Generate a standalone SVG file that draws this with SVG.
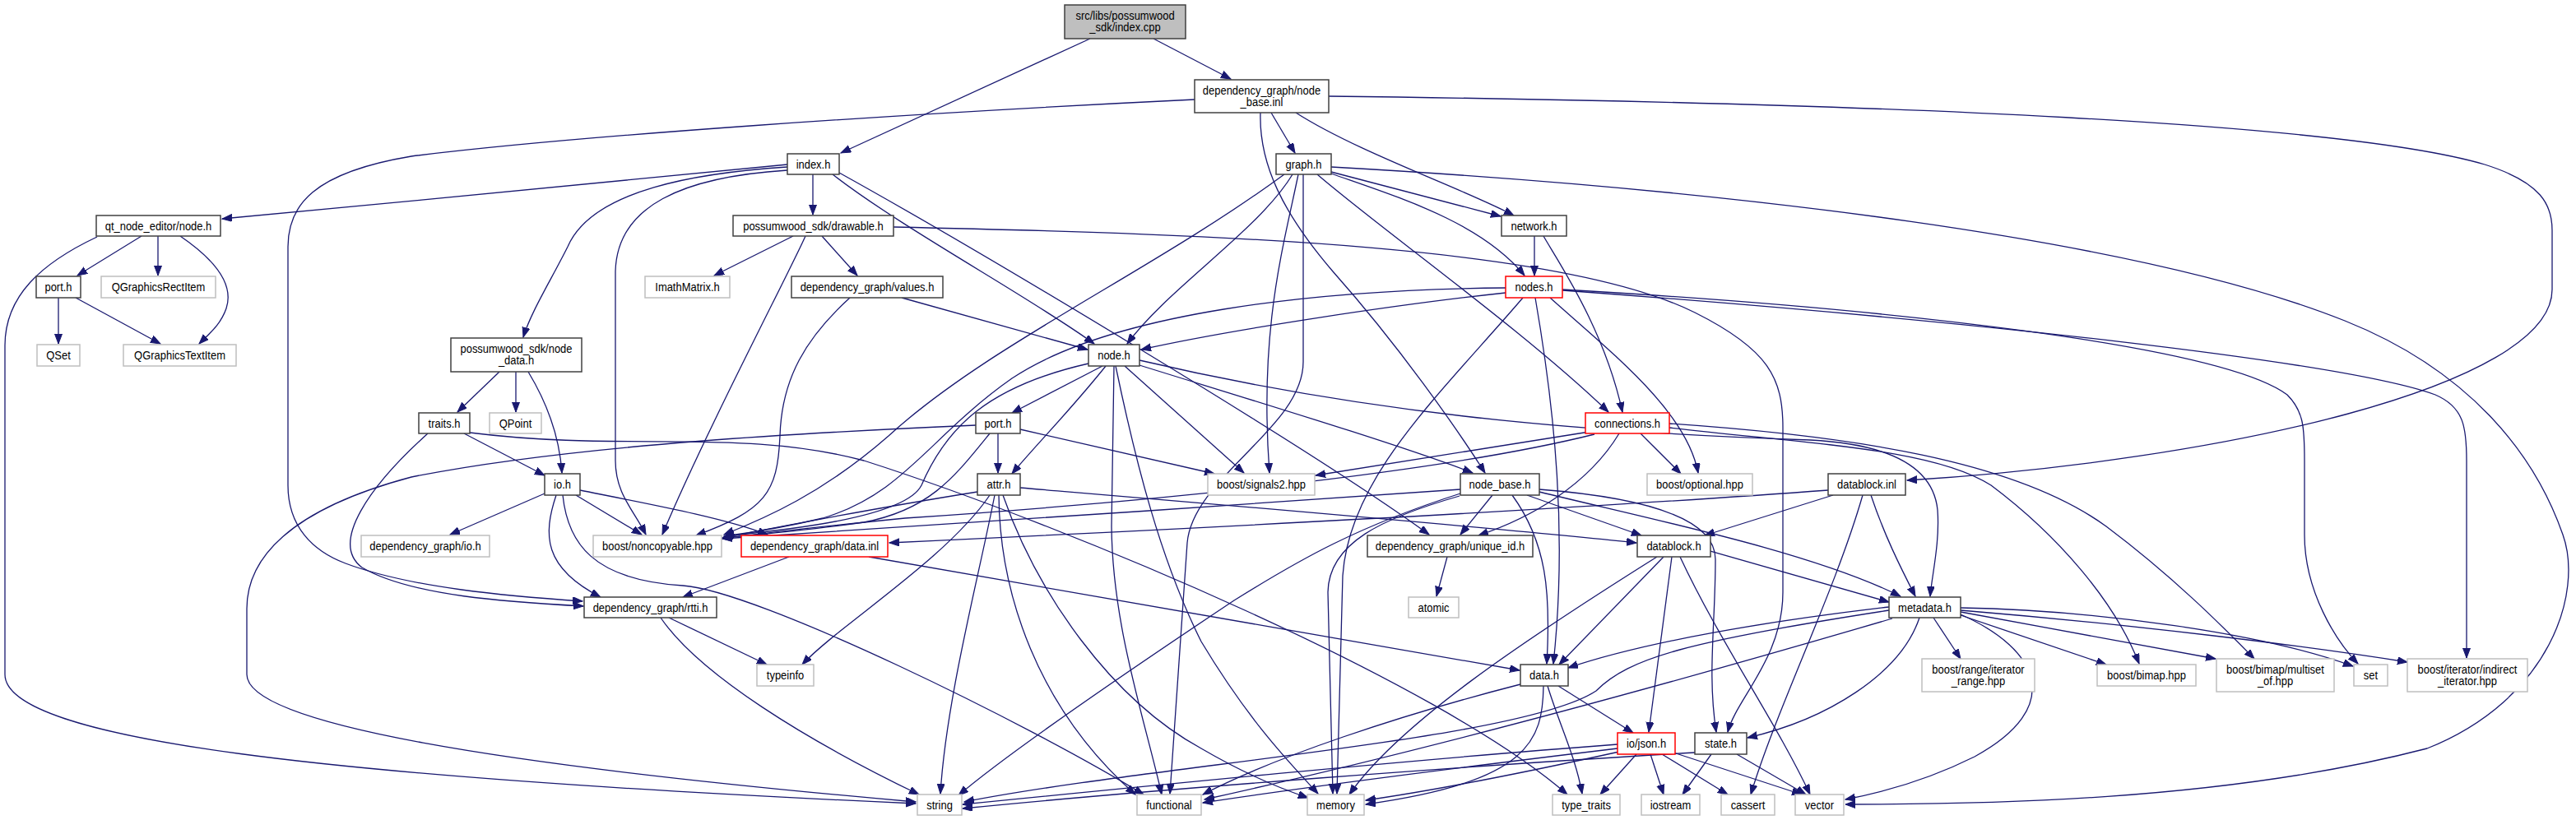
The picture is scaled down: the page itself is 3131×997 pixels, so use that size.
<svg xmlns="http://www.w3.org/2000/svg" width="3131" height="997" viewBox="0 0 3131 997">
<style>
.n rect{fill:#fff;stroke:#404040;stroke-width:1.5}
.x rect{fill:#fff;stroke:#bfbfbf;stroke-width:1.5}
.r rect{fill:#fff;stroke:#ff0000;stroke-width:1.5}
.root rect{fill:#bfbfbf;stroke:#404040;stroke-width:1.5}
text{font-family:"Liberation Sans",Arial,sans-serif;font-size:14.4px;text-anchor:middle;fill:#000}
#edges path{fill:none;stroke:#191970;stroke-width:1.3;marker-end:url(#ah)}
</style>
<defs>
<marker id="ah" markerUnits="userSpaceOnUse" markerWidth="14" markerHeight="11" refX="12" refY="4.5" orient="auto">
<path d="M0,0 L12,4.5 L0,9 z" fill="#191970" stroke="#191970" stroke-width="1"/>
</marker>
</defs>
<rect width="3131" height="997" fill="#fff"/>
<g id="edges">
<path d="M1325,47 L1022,186"/>
<path d="M1402,47 L1496,96"/>
<path d="M1545,137 L1574,186"/>
<path d="M1575,137 C1650,185 1780,230 1840,262"/>
<path d="M1615,117 C2300,125 2850,150 3020,200 C3090,222 3102,250 3102,280 L3102,352 C3102,470 2700,560 2318,584"/>
<path d="M1452,121 C1100,138 700,165 500,190 C380,210 350,250 350,300 L350,590 C350,640 380,670 420,685 C500,715 620,725 708,731"/>
<path d="M1532,137 C1530,200 1560,260 1620,330 C1700,420 1770,520 1805,575"/>
<path d="M957,200 C800,215 500,245 270,266"/>
<path d="M988,212 L988,261"/>
<path d="M957,203 C850,210 720,230 690,300 C670,340 645,380 636,410"/>
<path d="M957,207 C830,215 750,250 748,330 L748,560 C748,600 770,620 785,650"/>
<path d="M1012,212 C1100,280 1250,360 1330,418"/>
<path d="M1020,210 C1200,310 1600,550 1737,650"/>
<path d="M172,287 L94,335"/>
<path d="M192,287 L192,335"/>
<path d="M219,287 C260,315 285,345 275,375 C268,395 255,405 242,418"/>
<path d="M118,288 C50,320 6,360 6,420 L6,820 C6,900 400,945 1113,977"/>
<path d="M71,362 L71,418"/>
<path d="M92,362 L195,418"/>
<path d="M964,287 L868,335"/>
<path d="M999,287 L1042,335"/>
<path d="M979,287 C960,330 860,520 805,650"/>
<path d="M1086,276 C1500,285 1900,300 2060,380 C2150,425 2167,460 2167,520 L2167,720 C2167,800 2110,850 2100,890"/>
<path d="M1618,209 L1824,263"/>
<path d="M1618,211 C1700,240 1800,270 1853,335"/>
<path d="M1601,212 C1680,280 1850,400 1955,501"/>
<path d="M1571,212 C1530,280 1420,350 1370,418"/>
<path d="M1561,212 C1400,330 1200,420 1080,530 C1000,600 930,630 880,650"/>
<path d="M1578,212 C1560,300 1530,400 1543,575"/>
<path d="M1584,212 L1584,440 C1584,520 1450,580 1443,660 L1422,965"/>
<path d="M1618,203 C2100,230 2600,290 2850,390 C3000,450 3080,550 3115,650 C3140,720 3100,850 2950,910 C2700,975 2400,978 2243,978"/>
<path d="M1865,287 L1865,335"/>
<path d="M1876,287 C1895,320 1950,400 1972,501"/>
<path d="M1830,356 C1700,370 1500,400 1387,425"/>
<path d="M1830,350 C1600,352 1350,380 1230,460 C1130,530 1100,600 1000,630 C950,642 910,648 880,652"/>
<path d="M1851,362 C1750,480 1640,580 1632,700 L1625,965"/>
<path d="M1866,362 C1890,500 1905,650 1888,807"/>
<path d="M1884,362 C1960,430 2050,500 2064,575"/>
<path d="M1899,352 C2300,375 2700,420 2780,480 C2800,500 2801,520 2801,560 L2801,650 C2801,720 2840,780 2866,807"/>
<path d="M1899,353 C2400,390 2850,440 2960,480 C2995,495 2998,520 2998,560 L2998,800"/>
<path d="M607,452 L556,501"/>
<path d="M627,452 L627,501"/>
<path d="M642,452 C665,490 680,530 683,575"/>
<path d="M564,527 L662,578"/>
<path d="M520,527 C450,590 400,660 440,690 C500,725 620,732 709,737"/>
<path d="M571,526 C760,550 900,520 1050,560 C1300,640 1750,830 1905,966"/>
<path d="M662,600 L547,650"/>
<path d="M700,602 L780,650"/>
<path d="M705,596 C800,615 880,630 933,650"/>
<path d="M676,602 C660,650 660,690 730,726"/>
<path d="M684,602 C690,660 720,705 830,712 C920,718 1250,880 1390,966"/>
<path d="M1096,362 L1322,425"/>
<path d="M1033,362 C980,410 950,460 948,530 C945,600 930,620 846,651"/>
<path d="M1340,445 L1230,502"/>
<path d="M1344,445 C1300,500 1260,540 1230,576"/>
<path d="M1323,442 C1200,470 1150,520 1120,590 C1100,630 950,645 880,652"/>
<path d="M1354,445 L1351,640 C1352,760 1390,870 1412,966"/>
<path d="M1356,445 C1380,560 1410,680 1460,780 C1520,880 1570,930 1602,965"/>
<path d="M1367,445 L1512,575"/>
<path d="M1385,444 C1500,480 1700,540 1790,575"/>
<path d="M1385,438 C1650,500 1900,525 2200,535 C2300,540 2350,570 2355,620 C2358,660 2348,700 2346,725"/>
<path d="M1213,527 L1213,575"/>
<path d="M1240,522 L1476,576"/>
<path d="M1203,527 C1160,580 1130,620 1050,635 C980,645 920,650 878,654"/>
<path d="M1186,517 C1000,525 700,540 500,580 C350,620 300,680 300,740 L300,820 C300,880 600,930 1113,975"/>
<path d="M1188,598 C1050,620 950,640 878,654"/>
<path d="M1203,602 C1150,680 1020,760 975,808"/>
<path d="M1209,602 C1190,700 1150,850 1143,965"/>
<path d="M1214,602 C1215,720 1260,860 1380,966"/>
<path d="M1219,602 C1260,720 1350,850 1460,910 C1520,945 1560,960 1590,970"/>
<path d="M1240,593 C1500,615 1800,640 1989,660"/>
<path d="M1938,524 L1599,578"/>
<path d="M1938,528 C1750,575 1400,610 1100,630 C1000,640 930,648 878,655"/>
<path d="M1968,527 C1930,590 1860,630 1797,651"/>
<path d="M1994,527 L2043,576"/>
<path d="M2029,520 C2200,540 2350,545 2420,590 C2500,650 2570,730 2600,807"/>
<path d="M2029,515 C2250,530 2450,560 2560,640 C2640,700 2700,760 2740,801"/>
<path d="M1775,595 C1500,615 1100,640 878,655"/>
<path d="M1775,600 C1650,640 1580,680 1500,730 C1350,830 1220,920 1165,967"/>
<path d="M1774,603 C1680,630 1615,660 1614,720 L1620,965"/>
<path d="M1814,602 L1775,650"/>
<path d="M1838,602 C1880,660 1885,720 1880,807"/>
<path d="M1856,602 L1995,651"/>
<path d="M1871,595 C2000,605 2085,630 2085,680 C2085,760 2075,820 2086,890"/>
<path d="M1871,598 C2000,630 2200,670 2310,725"/>
<path d="M2222,596 C1900,620 1400,645 1081,660"/>
<path d="M2228,602 L2072,651"/>
<path d="M2274,602 C2290,650 2310,690 2328,725"/>
<path d="M2264,602 C2230,720 2160,860 2128,966"/>
<path d="M1759,677 L1746,725"/>
<path d="M2014,677 C1850,780 1700,880 1640,966"/>
<path d="M2022,677 L1895,808"/>
<path d="M2032,677 L2004,890"/>
<path d="M2042,677 C2090,780 2160,880 2200,966"/>
<path d="M2079,670 L2296,732"/>
<path d="M2296,738 C2150,755 2000,780 1906,812"/>
<path d="M2296,742 C2050,780 1980,800 1940,840 C1850,900 1400,930 1172,975"/>
<path d="M2300,752 C2000,840 1700,920 1464,972"/>
<path d="M2333,751 C2310,820 2220,875 2124,897"/>
<path d="M2350,751 L2383,801"/>
<path d="M2383,748 L2560,808"/>
<path d="M2383,744 L2693,801"/>
<path d="M2383,739 C2550,742 2750,770 2860,810"/>
<path d="M2383,742 C2600,760 2800,785 2926,805"/>
<path d="M2383,747 C2480,790 2510,860 2400,920 C2340,950 2280,965 2243,972"/>
<path d="M1894,834 L1985,891"/>
<path d="M1881,834 C1895,880 1915,920 1923,965"/>
<path d="M1876,834 C1875,900 1860,950 1660,978"/>
<path d="M1848,832 C1700,870 1550,920 1462,966"/>
<path d="M1966,905 C1700,925 1400,955 1170,978"/>
<path d="M1966,910 C1800,930 1600,955 1462,976"/>
<path d="M1968,914 C1850,940 1750,960 1660,973"/>
<path d="M1989,917 L1945,966"/>
<path d="M2006,917 L2022,966"/>
<path d="M2020,917 L2100,966"/>
<path d="M2034,915 L2190,966"/>
<path d="M2060,915 C1800,930 1400,960 1170,983"/>
<path d="M2080,917 L2045,966"/>
<path d="M2111,917 L2195,966"/>
<path d="M959,677 L830,726"/>
<path d="M1056,677 L1847,815"/>
<path d="M813,751 L932,808"/>
<path d="M803,751 C850,820 980,900 1117,966"/>
</g>
<g id="n_root" class="root"><rect x="1294" y="6" width="147" height="41"/><text transform="translate(1367.5,24) scale(0.9,1)">src/libs/possumwood</text><text transform="translate(1367.5,38) scale(0.9,1)">_sdk/index.cpp</text></g>
<g id="n_nbinl" class="n"><rect x="1452" y="97" width="163" height="40"/><text transform="translate(1533.5,114.5) scale(0.9,1)">dependency_graph/node</text><text transform="translate(1533.5,128.5) scale(0.9,1)">_base.inl</text></g>
<g id="n_indexh" class="n"><rect x="957" y="187" width="63" height="25"/><text transform="translate(988.5,204.5) scale(0.9,1)">index.h</text></g>
<g id="n_qtnode" class="n"><rect x="117" y="262" width="151" height="25"/><text transform="translate(192.5,279.5) scale(0.9,1)">qt_node_editor/node.h</text></g>
<g id="n_drawable" class="n"><rect x="891" y="262" width="195" height="25"/><text transform="translate(988.5,279.5) scale(0.9,1)">possumwood_sdk/drawable.h</text></g>
<g id="n_graph" class="n"><rect x="1551" y="187" width="67" height="25"/><text transform="translate(1584.5,204.5) scale(0.9,1)">graph.h</text></g>
<g id="n_network" class="n"><rect x="1825" y="262" width="79" height="25"/><text transform="translate(1864.5,279.5) scale(0.9,1)">network.h</text></g>
<g id="n_nodes" class="r"><rect x="1830" y="336" width="69" height="26"/><text transform="translate(1864.5,354) scale(0.9,1)">nodes.h</text></g>
<g id="n_qtport" class="n"><rect x="44" y="336" width="54" height="26"/><text transform="translate(71,354) scale(0.9,1)">port.h</text></g>
<g id="n_qrect" class="x"><rect x="123" y="336" width="139" height="26"/><text transform="translate(192.5,354) scale(0.9,1)">QGraphicsRectItem</text></g>
<g id="n_qset" class="x"><rect x="45" y="419" width="52" height="26"/><text transform="translate(71,437) scale(0.9,1)">QSet</text></g>
<g id="n_qtext" class="x"><rect x="150" y="419" width="137" height="26"/><text transform="translate(218.5,437) scale(0.9,1)">QGraphicsTextItem</text></g>
<g id="n_nodedata" class="n"><rect x="548" y="411" width="159" height="41"/><text transform="translate(627.5,429) scale(0.9,1)">possumwood_sdk/node</text><text transform="translate(627.5,443) scale(0.9,1)">_data.h</text></g>
<g id="n_traits" class="n"><rect x="509" y="502" width="62" height="25"/><text transform="translate(540,519.5) scale(0.9,1)">traits.h</text></g>
<g id="n_qpoint" class="x"><rect x="595" y="502" width="63" height="25"/><text transform="translate(626.5,519.5) scale(0.9,1)">QPoint</text></g>
<g id="n_io" class="n"><rect x="662" y="576" width="43" height="26"/><text transform="translate(683.5,594) scale(0.9,1)">io.h</text></g>
<g id="n_imath" class="x"><rect x="784" y="336" width="103" height="26"/><text transform="translate(835.5,354) scale(0.9,1)">ImathMatrix.h</text></g>
<g id="n_values" class="n"><rect x="962" y="336" width="184" height="26"/><text transform="translate(1054,354) scale(0.9,1)">dependency_graph/values.h</text></g>
<g id="n_nodeh" class="n"><rect x="1323" y="419" width="62" height="26"/><text transform="translate(1354,437) scale(0.9,1)">node.h</text></g>
<g id="n_port" class="n"><rect x="1186" y="502" width="54" height="25"/><text transform="translate(1213,519.5) scale(0.9,1)">port.h</text></g>
<g id="n_attr" class="n"><rect x="1188" y="576" width="52" height="26"/><text transform="translate(1214,594) scale(0.9,1)">attr.h</text></g>
<g id="n_signals" class="x"><rect x="1468" y="576" width="130" height="26"/><text transform="translate(1533,594) scale(0.9,1)">boost/signals2.hpp</text></g>
<g id="n_dgio" class="x"><rect x="439" y="651" width="156" height="26"/><text transform="translate(517,669) scale(0.9,1)">dependency_graph/io.h</text></g>
<g id="n_noncopy" class="x"><rect x="721" y="651" width="156" height="26"/><text transform="translate(799,669) scale(0.9,1)">boost/noncopyable.hpp</text></g>
<g id="n_rtti" class="n"><rect x="710" y="726" width="161" height="25"/><text transform="translate(790.5,743.5) scale(0.9,1)">dependency_graph/rtti.h</text></g>
<g id="n_datainl" class="r"><rect x="901" y="651" width="178" height="26"/><text transform="translate(990,669) scale(0.9,1)">dependency_graph/data.inl</text></g>
<g id="n_typeinfo" class="x"><rect x="920" y="808" width="69" height="26"/><text transform="translate(954.5,826) scale(0.9,1)">typeinfo</text></g>
<g id="n_string" class="x"><rect x="1115" y="966" width="54" height="25"/><text transform="translate(1142,983.5) scale(0.9,1)">string</text></g>
<g id="n_functional" class="x"><rect x="1382" y="966" width="78" height="25"/><text transform="translate(1421,983.5) scale(0.9,1)">functional</text></g>
<g id="n_conn" class="r"><rect x="1927" y="502" width="102" height="25"/><text transform="translate(1978,519.5) scale(0.9,1)">connections.h</text></g>
<g id="n_nodebase" class="n"><rect x="1775" y="576" width="96" height="26"/><text transform="translate(1823,594) scale(0.9,1)">node_base.h</text></g>
<g id="n_optional" class="x"><rect x="2002" y="576" width="128" height="26"/><text transform="translate(2066,594) scale(0.9,1)">boost/optional.hpp</text></g>
<g id="n_dbinl" class="n"><rect x="2222" y="576" width="94" height="26"/><text transform="translate(2269,594) scale(0.9,1)">datablock.inl</text></g>
<g id="n_uid" class="n"><rect x="1662" y="651" width="201" height="26"/><text transform="translate(1762.5,669) scale(0.9,1)">dependency_graph/unique_id.h</text></g>
<g id="n_dbh" class="n"><rect x="1990" y="651" width="89" height="26"/><text transform="translate(2034.5,669) scale(0.9,1)">datablock.h</text></g>
<g id="n_atomic" class="x"><rect x="1712" y="726" width="61" height="25"/><text transform="translate(1742.5,743.5) scale(0.9,1)">atomic</text></g>
<g id="n_metadata" class="n"><rect x="2296" y="726" width="87" height="25"/><text transform="translate(2339.5,743.5) scale(0.9,1)">metadata.h</text></g>
<g id="n_datah" class="n"><rect x="1848" y="808" width="58" height="26"/><text transform="translate(1877,826) scale(0.9,1)">data.h</text></g>
<g id="n_json" class="r"><rect x="1966" y="891" width="70" height="26"/><text transform="translate(2001,909) scale(0.9,1)">io/json.h</text></g>
<g id="n_state" class="n"><rect x="2060" y="891" width="63" height="26"/><text transform="translate(2091.5,909) scale(0.9,1)">state.h</text></g>
<g id="n_memory" class="x"><rect x="1589" y="966" width="69" height="25"/><text transform="translate(1623.5,983.5) scale(0.9,1)">memory</text></g>
<g id="n_typetraits" class="x"><rect x="1887" y="966" width="82" height="25"/><text transform="translate(1928,983.5) scale(0.9,1)">type_traits</text></g>
<g id="n_iostream" class="x"><rect x="1995" y="966" width="71" height="25"/><text transform="translate(2030.5,983.5) scale(0.9,1)">iostream</text></g>
<g id="n_cassert" class="x"><rect x="2092" y="966" width="65" height="25"/><text transform="translate(2124.5,983.5) scale(0.9,1)">cassert</text></g>
<g id="n_vector" class="x"><rect x="2182" y="966" width="59" height="25"/><text transform="translate(2211.5,983.5) scale(0.9,1)">vector</text></g>
<g id="n_range" class="x"><rect x="2336" y="801" width="137" height="40"/><text transform="translate(2404.5,818.5) scale(0.9,1)">boost/range/iterator</text><text transform="translate(2404.5,832.5) scale(0.9,1)">_range.hpp</text></g>
<g id="n_bimap" class="x"><rect x="2549" y="808" width="120" height="26"/><text transform="translate(2609,826) scale(0.9,1)">boost/bimap.hpp</text></g>
<g id="n_multiset" class="x"><rect x="2694" y="801" width="143" height="40"/><text transform="translate(2765.5,818.5) scale(0.9,1)">boost/bimap/multiset</text><text transform="translate(2765.5,832.5) scale(0.9,1)">_of.hpp</text></g>
<g id="n_set" class="x"><rect x="2861" y="808" width="41" height="26"/><text transform="translate(2881.5,826) scale(0.9,1)">set</text></g>
<g id="n_indirect" class="x"><rect x="2926" y="801" width="146" height="40"/><text transform="translate(2999,818.5) scale(0.9,1)">boost/iterator/indirect</text><text transform="translate(2999,832.5) scale(0.9,1)">_iterator.hpp</text></g>
</svg>
